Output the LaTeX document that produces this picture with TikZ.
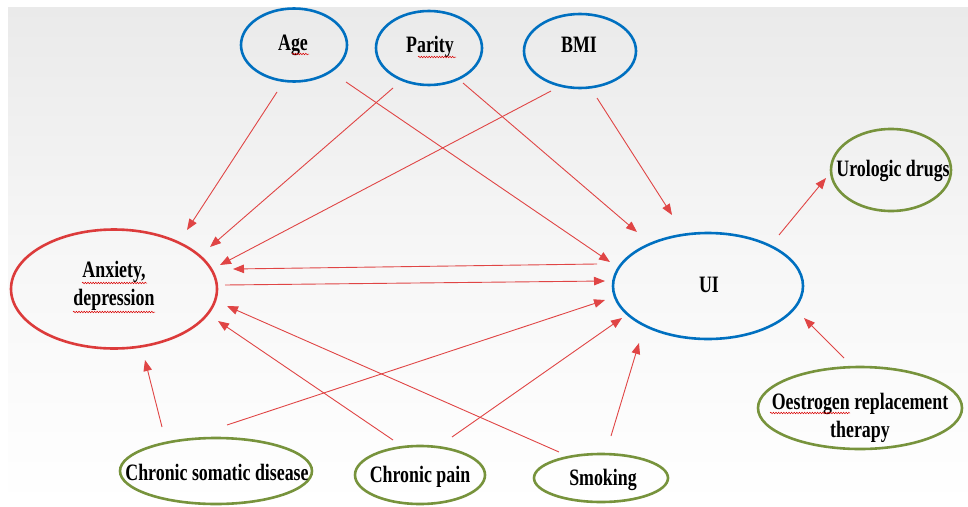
\documentclass[tikz,border=0pt]{standalone}
\usepackage{fontspec}
\setmainfont{Liberation Serif}[FakeStretch=0.76]
\usetikzlibrary{arrows.meta,shapes.geometric,decorations.pathmorphing}
\definecolor{nblue}{HTML}{0070C0}
\definecolor{ngreen}{HTML}{77933C}
\definecolor{nred}{HTML}{DC3B3B}
\definecolor{ared}{HTML}{E04545}
\definecolor{bgtop}{HTML}{EAEAEA}
\tikzset{
  ell/.style={ellipse, draw, line width=2.6pt, inner sep=0pt},
  blueell/.style={ell, draw=nblue},
  greenell/.style={ell, draw=ngreen},
  redell/.style={ell, draw=nred},
  txt/.style={anchor=base, inner sep=0pt, align=center, text=black,
    font=\fontsize{23.5}{28}\selectfont\bfseries},
  conn/.style={draw=ared, line width=0.9pt, -{Triangle[length=11pt,width=8.5pt]}},
  squig/.style={draw=red!85!black, line width=0.5pt, decorate,
    decoration={snake, amplitude=0.8pt, segment length=2.6pt}}
}
\begin{document}
\begin{tikzpicture}[x=1pt,y=-1pt]
\useasboundingbox (0,0) rectangle (968,506);
\shade[top color=bgtop, bottom color=white, middle color=bgtop!40!white] (8,7) rectangle (968,506);

% ellipses
\node[blueell, minimum width=106pt, minimum height=73pt] (age) at (294,45) {};
\node[blueell, minimum width=106pt, minimum height=74pt] (parity) at (429,48) {};
\node[blueell, minimum width=112pt, minimum height=74pt] (bmi) at (580,51) {};
\node[greenell, minimum width=120pt, minimum height=82pt] (uro) at (891,170) {};
\node[blueell, minimum width=190pt, minimum height=106pt] (ui) at (708,286) {};
\node[redell, minimum width=206pt, minimum height=119pt] (anx) at (114,289) {};
\node[greenell, minimum width=192pt, minimum height=66pt] (csd) at (216,471) {};
\node[greenell, minimum width=130pt, minimum height=58pt] (pain) at (420,475) {};
\node[greenell, minimum width=134pt, minimum height=48pt] (smk) at (601,478) {};
\node[greenell, minimum width=204pt, minimum height=82pt] (oes) at (860,408) {};

% texts
\node[txt] (agetxt) at (293,50) {Age};
\node[txt] (paritytxt) at (430,52) {Parity};
\node[txt] (bmitxt) at (579,52) {BMI};
\node[txt] (urotxt) at (893,176) {Urologic drugs};
\node[txt] (uitxt) at (709,292.7) {UI};
\node[txt] (anxtxt) at (114,305) {Anxiety,\\depression};
\node[txt] (csdtxt) at (217,480) {Chronic somatic disease};
\node[txt] (paintxt) at (420,482) {Chronic pain};
\node[txt] (smktxt) at (603,485) {Smoking};
\node[txt] (oestxt) at (860,437) {Oestrogen replacement\\therapy};

% spell-check underlines
\draw[squig] ([shift={(-1,4)}]agetxt.base) -- ([shift={(16,4)}]agetxt.base);
\draw[squig] ([shift={(-12,5)}]paritytxt.base) -- ([shift={(26,5)}]paritytxt.base);
\draw[squig] ([shift={(-32,-22)}]anxtxt.base) -- ([shift={(33,-22)}]anxtxt.base);
\draw[squig] ([shift={(-41,7)}]anxtxt.base) -- ([shift={(41,7)}]anxtxt.base);
\draw[squig] ([shift={(-90,-24)}]oestxt.base) -- ([shift={(-10,-24)}]oestxt.base);

% connectors
\draw[conn] ([shift={(-17,47)}]age.center) -- ([shift={(73,-59)}]anx.center);
\draw[conn] ([shift={(52,37)}]age.center) -- ([shift={(-98,-24)}]ui.center);
\draw[conn] ([shift={(-36,40)}]parity.center) -- ([shift={(96,-42)}]anx.center);
\draw[conn] ([shift={(34,35)}]parity.center) -- ([shift={(-71,-54)}]ui.center);
\draw[conn] ([shift={(-29,40)}]bmi.center) -- ([shift={(106,-24)}]anx.center);
\draw[conn] ([shift={(17,47)}]bmi.center) -- ([shift={(-36,-71)}]ui.center);
\draw[conn] ([shift={(-111,-22)}]ui.center) -- ([shift={(119,-20)}]anx.center);
\draw[conn] ([shift={(111,-4)}]anx.center) -- ([shift={(-103,-5)}]ui.center);
\draw[conn] ([shift={(11,-46)}]csd.center) -- ([shift={(-103,14)}]ui.center);
\draw[conn] ([shift={(-54,-44)}]csd.center) -- ([shift={(31,71)}]anx.center);
\draw[conn] ([shift={(-27,-35)}]pain.center) -- ([shift={(104,32)}]anx.center);
\draw[conn] ([shift={(32,-38)}]pain.center) -- ([shift={(-86,32)}]ui.center);
\draw[conn] ([shift={(-42,-26)}]smk.center) -- ([shift={(113,17)}]anx.center);
\draw[conn] ([shift={(10,-42)}]smk.center) -- ([shift={(-69,57)}]ui.center);
\draw[conn] ([shift={(-16,-50)}]oes.center) -- ([shift={(96,32)}]ui.center);
\draw[conn] ([shift={(71,-51)}]ui.center) -- ([shift={(-65,8)}]uro.center);
\end{tikzpicture}
\end{document}
